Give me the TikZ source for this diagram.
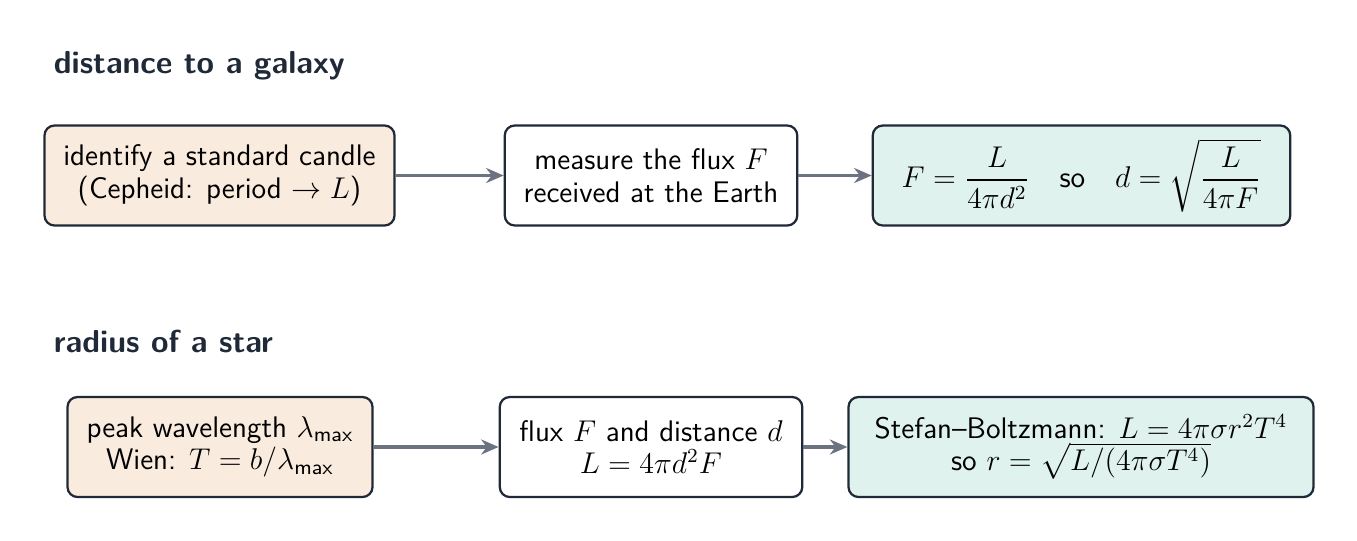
\documentclass[tikz,border=0pt]{standalone}
\usepackage{amsmath}
\usetikzlibrary{arrows.meta}
\renewcommand{\familydefault}{\sfdefault}
\definecolor{ink}{HTML}{1F2937}
\definecolor{arrowgray}{HTML}{6B7280}
\definecolor{warm}{HTML}{FAEBDF}
\definecolor{cool}{HTML}{E0F2EE}
\tikzset{
	box/.style={draw=ink,line width=0.9pt,rounded corners=4pt,align=center,
		text=black,minimum height=40pt,inner sep=2pt,font=\fontsize{11.9}{13}\selectfont},
	plain/.style={box,fill=white},
	given/.style={box,fill=warm},
	result/.style={box,fill=cool},
	flow/.style={-{Stealth[length=7pt,width=6pt]},draw=arrowgray,line width=1.3pt},
	title/.style={anchor=west,text=ink,font=\fontsize{12.7}{15}\selectfont\bfseries}
}
\begin{document}
\begin{tikzpicture}[x=0.4pt,y=-0.4pt]
\useasboundingbox (0,0) rectangle (1357,540);
% distance
\node[title] (t1) at (45,66) {distance to a galaxy};
\node[given,minimum width=140pt] (g1) at (219.5,175.5)
	{identify a standard candle\\(Cepheid: period $\to L$)};
\node[plain,minimum width=117pt] (m1) at (651,175.5)
	{measure the flux $F$\\received at the Earth};
\node[result,minimum width=167pt] (r1) at (1081.5,175.5)
	{$F=\dfrac{L}{4\pi d^2}$\quad so\quad $d=\sqrt{\dfrac{L}{4\pi F}}$};
\draw[flow] (g1) -- (m1);
\draw[flow] (m1) -- (r1);
% radius
\node[title] (t2) at (45,341) {radius of a star};
\node[given,minimum width=122pt] (g2) at (220,447)
	{peak wavelength $\lambda_{\text{max}}$\\Wien: $T=b/\lambda_{\text{max}}$};
\node[plain,minimum width=121pt] (m2) at (651,447)
	{flux $F$ and distance $d$\\$L=4\pi d^2F$};
\node[result,minimum width=186pt] (r2) at (1081,447)
	{Stefan--Boltzmann: $L=4\pi\sigma r^2T^4$\\so $r=\sqrt{L/(4\pi\sigma T^4)}$};
\draw[flow] (g2) -- (m2);
\draw[flow] (m2) -- (r2);
\end{tikzpicture}
\end{document}
